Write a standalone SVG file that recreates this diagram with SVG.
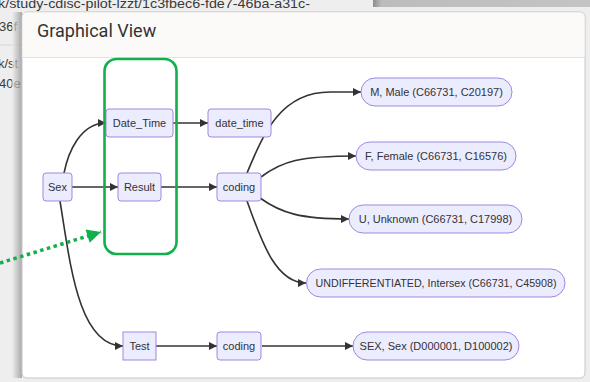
<svg xmlns="http://www.w3.org/2000/svg" width="590" height="382" viewBox="0 0 590 382">
<style>
.bgt{font-family:"Liberation Sans",Arial,sans-serif;font-size:13px;fill:#3a3a3a}
.n rect{fill:#ECECFF;stroke:#9f87e0;stroke-width:1}
.n text{font-family:"Liberation Sans",Arial,sans-serif;font-size:11px;fill:#333;text-anchor:middle}
.e path{fill:none;stroke:#333;stroke-width:1.6}
</style>
<defs>
<marker id="ah" viewBox="0 0 10 10" refX="10" refY="5" markerWidth="9" markerHeight="8" markerUnits="userSpaceOnUse" orient="auto"><path d="M0,0 L10,5 L0,10 z" fill="#333"/></marker>
<marker id="gh" viewBox="0 0 10 10" refX="10" refY="5" markerWidth="15" markerHeight="14" markerUnits="userSpaceOnUse" orient="auto"><path d="M0,0 L10,5 L0,10 z" fill="#12b04c"/></marker>
<linearGradient id="sh" x1="0" y1="0" x2="1" y2="0"><stop offset="0" stop-color="#eeeeee"/><stop offset="1" stop-color="#8a8a8a"/></linearGradient>
<linearGradient id="bar" x1="0" y1="0" x2="1" y2="0"><stop offset="0" stop-color="#8c8c8c"/><stop offset="0.04" stop-color="#bcbcbc"/><stop offset="1" stop-color="#c4c4c4"/></linearGradient>
</defs>
<rect x="0" y="0" width="590" height="382" fill="#eeeeee"/>
<rect x="373" y="0" width="217" height="7" fill="url(#bar)"/>
<text class="bgt" x="-2" y="8" textLength="312" lengthAdjust="spacingAndGlyphs">k/study-cdisc-pilot-lzzt/1c3fbec6-fde7-46ba-a31c-</text>
<text class="bgt" x="-1" y="31">36f</text>
<line x1="0" y1="45" x2="20" y2="45" stroke="#d4d4d4" stroke-width="1"/>
<text class="bgt" x="-2" y="68">k/st</text>
<text class="bgt" x="-1" y="88">40e</text>
<rect x="12" y="12" width="10" height="366" fill="url(#sh)" opacity="0.7"/>
<g id="card">
<rect x="22" y="12" width="563" height="366" rx="5" fill="#ffffff" stroke="#c6c6c6" stroke-width="1"/>
<path d="M22.5,57 L22.5,17 Q22.5,12.5 27,12.5 L580,12.5 Q584.5,12.5 584.5,17 L584.5,57 Z" fill="#fbfaf8"/>
<line x1="22.5" y1="57.5" x2="584.5" y2="57.5" stroke="#e4e2df" stroke-width="1"/>
<text x="37" y="36.5" font-family="Roboto,'Liberation Sans',sans-serif" font-size="18" fill="#333">Graphical View</text>
</g>
<g class="e" id="connectors">
<path d="M64,173 C68,153 80,123 106,123" marker-end="url(#ah)"/>
<path d="M72,187 L118,187" marker-end="url(#ah)"/>
<path d="M60,201 C70,262 78,346 123,346" marker-end="url(#ah)"/>
<path d="M173,123 L208,123" marker-end="url(#ah)"/>
<path d="M161,187 L217,187" marker-end="url(#ah)"/>
<path d="M156,346 L217,346" marker-end="url(#ah)"/>
<path d="M262,346 L353,346" marker-end="url(#ah)"/>
<path d="M247,173 C263,135 280,92 330,92 L361,92" marker-end="url(#ah)"/>
<path d="M261,177 C282,161 300,156 356,156" marker-end="url(#ah)"/>
<path d="M260,198 C281,213 300,219 349,219" marker-end="url(#ah)"/>
<path d="M247,201 C260,236 274,283 306,283" marker-end="url(#ah)"/>
</g>
<g class="n" id="n-sex"><rect x="43" y="173" width="29" height="28" rx="3"/><text x="57.5" y="191">Sex</text></g>
<g class="n" id="n-datetime"><rect x="106" y="109" width="67" height="28" rx="3"/><text x="139.5" y="127">Date_Time</text></g>
<g class="n" id="n-result"><rect x="118" y="173" width="43" height="28" rx="3"/><text x="139.5" y="191">Result</text></g>
<g class="n" id="n-test"><rect x="123" y="332" width="33" height="28" rx="0"/><text x="139.5" y="350">Test</text></g>
<g class="n" id="n-date_time"><rect x="208" y="109" width="63" height="28" rx="3"/><text x="239.5" y="127">date_time</text></g>
<g class="n" id="n-coding1"><rect x="217" y="173" width="44" height="28" rx="3"/><text x="239" y="191">coding</text></g>
<g class="n" id="n-coding2"><rect x="217" y="332" width="44" height="28" rx="3"/><text x="239" y="350">coding</text></g>
<g class="n" id="n-male"><rect x="361" y="78" width="151" height="28" rx="14"/><text x="436.5" y="96">M, Male (C66731, C20197)</text></g>
<g class="n" id="n-female"><rect x="356" y="142" width="160" height="28" rx="14"/><text x="436" y="160">F, Female (C66731, C16576)</text></g>
<g class="n" id="n-unknown"><rect x="349" y="205" width="173" height="28" rx="14"/><text x="435.5" y="223">U, Unknown (C66731, C17998)</text></g>
<g class="n" id="n-undiff"><rect x="306.5" y="269" width="258.5" height="28" rx="14"/><text x="436" y="287" textLength="241" lengthAdjust="spacingAndGlyphs">UNDIFFERENTIATED, Intersex (C66731, C45908)</text></g>
<g class="n" id="n-sexcode"><rect x="353" y="332" width="166" height="28" rx="14"/><text x="436" y="350">SEX, Sex (D000001, D100002)</text></g>
<g id="highlight">
<rect x="104.5" y="59" width="72" height="195" rx="12" fill="none" stroke="#12b04c" stroke-width="2.6"/>
<path d="M0,263 L101,232" fill="none" stroke="#12b04c" stroke-width="3.5" stroke-dasharray="3.5,3.5" marker-end="url(#gh)"/>
</g>
</svg>
